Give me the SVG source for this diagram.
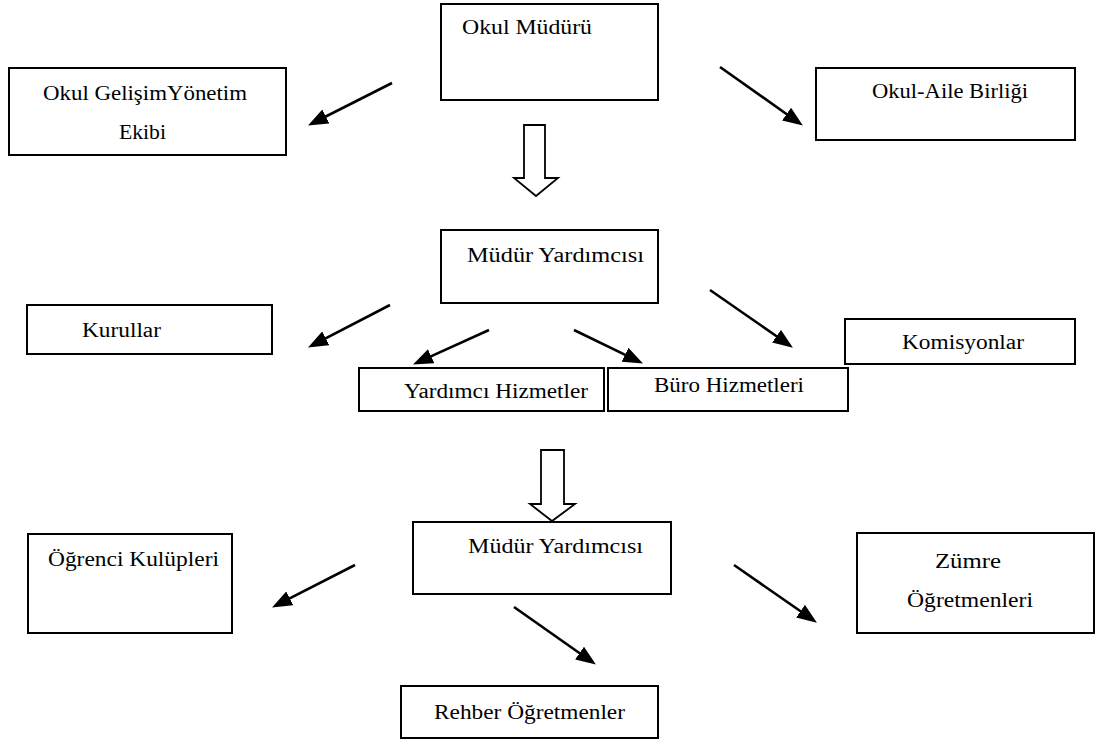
<svg xmlns="http://www.w3.org/2000/svg" width="1097" height="741" viewBox="0 0 1097 741">
<style>
  .box { fill: #fff; stroke: #000; stroke-width: 2; }
  text { font-family: "Liberation Serif", "Times New Roman", serif; font-size: 20px; fill: #000; }
  .conn { stroke: #000; stroke-width: 2.6; fill: none; }
  .hollow { fill: #fff; stroke: #000; stroke-width: 1.8; stroke-linejoin: miter; }
</style>
<defs>
  <marker id="ah" markerUnits="userSpaceOnUse" markerWidth="20" markerHeight="16" viewBox="0 0 18 14" refX="8" refY="7" orient="auto">
    <path d="M0,0 L18,7 L0,14 z" fill="#000"/>
  </marker>
</defs>
<rect width="1097" height="741" fill="#fff"/>

<g id="okul-muduru">
  <rect class="box" x="441" y="4" width="217" height="96"/>
  <text x="462" y="34" textLength="130" lengthAdjust="spacingAndGlyphs">Okul Müdürü</text>
</g>
<g id="okul-gelisim">
  <rect class="box" x="9" y="68" width="277" height="87"/>
  <text x="43" y="100" textLength="204" lengthAdjust="spacingAndGlyphs">Okul GelişimYönetim</text>
  <text x="119" y="139" textLength="47" lengthAdjust="spacingAndGlyphs">Ekibi</text>
</g>
<g id="okul-aile">
  <rect class="box" x="816" y="68" width="259" height="72"/>
  <text x="872" y="98" textLength="156" lengthAdjust="spacingAndGlyphs">Okul-Aile Birliği</text>
</g>
<g id="mudur-yard-1">
  <rect class="box" x="441" y="230" width="217" height="73"/>
  <text x="467" y="262" textLength="177" lengthAdjust="spacingAndGlyphs">Müdür Yardımcısı</text>
</g>
<g id="kurullar">
  <rect class="box" x="27" y="305" width="245" height="49"/>
  <text x="82" y="337" textLength="79" lengthAdjust="spacingAndGlyphs">Kurullar</text>
</g>
<g id="yardimci-hizmetler">
  <rect class="box" x="359" y="368" width="245" height="43"/>
  <text x="404" y="398" textLength="184" lengthAdjust="spacingAndGlyphs">Yardımcı Hizmetler</text>
</g>
<g id="buro-hizmetleri">
  <rect class="box" x="608" y="368" width="240" height="43"/>
  <text x="654" y="392" textLength="150" lengthAdjust="spacingAndGlyphs">Büro Hizmetleri</text>
</g>
<g id="komisyonlar">
  <rect class="box" x="845" y="319" width="230" height="45"/>
  <text x="902" y="349" textLength="122" lengthAdjust="spacingAndGlyphs">Komisyonlar</text>
</g>
<g id="mudur-yard-2">
  <rect class="box" x="413" y="522" width="258" height="72"/>
  <text x="468" y="553" textLength="175" lengthAdjust="spacingAndGlyphs">Müdür Yardımcısı</text>
</g>
<g id="ogrenci-kulupleri">
  <rect class="box" x="28" y="534" width="204" height="99"/>
  <text x="48" y="566" textLength="171" lengthAdjust="spacingAndGlyphs">Öğrenci Kulüpleri</text>
</g>
<g id="rehber">
  <rect class="box" x="401" y="686" width="257" height="52"/>
  <text x="434" y="719" textLength="191" lengthAdjust="spacingAndGlyphs">Rehber Öğretmenler</text>
</g>
<g id="zumre">
  <rect class="box" x="857" y="533" width="237" height="100"/>
  <text x="935" y="568" textLength="66" lengthAdjust="spacingAndGlyphs">Zümre</text>
  <text x="907" y="607" textLength="126" lengthAdjust="spacingAndGlyphs">Öğretmenleri</text>
</g>

<g id="connectors">
  <path class="hollow" d="M524,125 L545,125 L545,178 L558,178 L536,196 L514,178 L524,178 Z"/>
  <path class="hollow" d="M541,450 L564,450 L564,504 L575,504 L552,521 L530,504 L541,504 Z"/>
  <line class="conn" x1="392" y1="83" x2="317.9" y2="120.5" marker-end="url(#ah)"/>
  <line class="conn" x1="720" y1="67" x2="793.8" y2="119.2" marker-end="url(#ah)"/>
  <line class="conn" x1="390" y1="305" x2="317.9" y2="342.4" marker-end="url(#ah)"/>
  <line class="conn" x1="489" y1="330" x2="423.1" y2="359.9" marker-end="url(#ah)"/>
  <line class="conn" x1="574" y1="330" x2="633.0" y2="358.6" marker-end="url(#ah)"/>
  <line class="conn" x1="710" y1="290" x2="783.8" y2="341.3" marker-end="url(#ah)"/>
  <line class="conn" x1="355" y1="565" x2="281.9" y2="602.4" marker-end="url(#ah)"/>
  <line class="conn" x1="514" y1="607" x2="586.8" y2="658.2" marker-end="url(#ah)"/>
  <line class="conn" x1="734" y1="565" x2="807.8" y2="616.3" marker-end="url(#ah)"/>
</g>
</svg>
